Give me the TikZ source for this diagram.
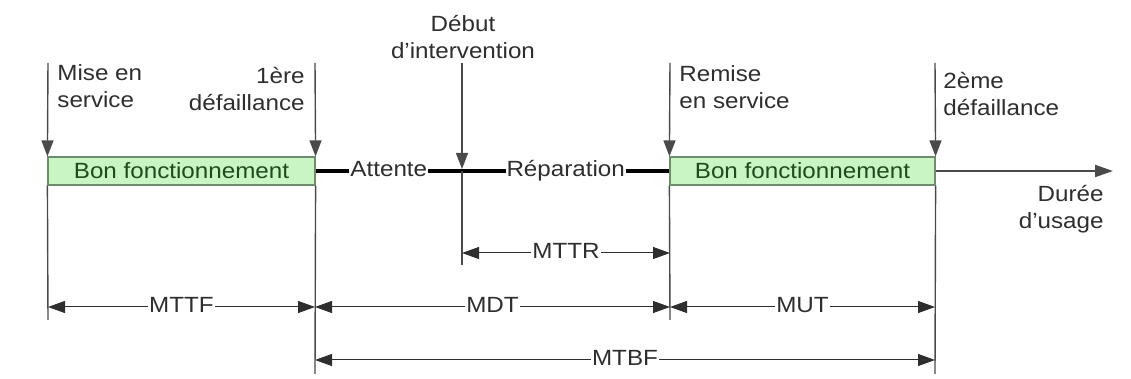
\documentclass[tikz,border=0pt]{standalone}
\usepackage{fontspec}
\setmainfont[FakeStretch=1.1]{Liberation Sans}
\usetikzlibrary{arrows.meta, positioning}

\definecolor{boxgreen}{HTML}{C8F5C3}
\definecolor{boxedge}{HTML}{6E8C6E}
\definecolor{boxtext}{HTML}{1E4A1E}
\definecolor{inkgray}{HTML}{2E2E2E}
\definecolor{linegray}{HTML}{4A4A4A}

\begin{document}
\begin{tikzpicture}[x=0.5pt, y=-0.5pt,
    lbl/.style={font=\fontsize{11pt}{13.5pt}\selectfont, text=inkgray, inner sep=0pt},
    okbox/.style={rectangle, draw=boxedge, line width=0.6pt, fill=boxgreen, text=boxtext, font=\fontsize{11pt}{13.5pt}\selectfont, minimum height=14pt, inner sep=0pt},
    evline/.style={draw=linegray, line width=0.7pt},
    evarrow/.style={evline, -{Triangle[length=8pt,width=6pt]}},
    dim/.style={draw=inkgray, line width=0.5pt, {Triangle[length=8.5pt,width=6pt]}-{Triangle[length=8.5pt,width=6pt]}},
    dimlbl/.style={lbl, fill=white, inner xsep=0.5pt, inner ysep=1pt, text height=8pt, text depth=2.4pt}
]
    \useasboundingbox (0,0) rectangle (1131,379);

    % event instants (top ends of the vertical lines)
    \coordinate (mes) at (48,63);
    \coordinate (def1) at (315,63);
    \coordinate (deb) at (462,63);
    \coordinate (rem) at (670,63);
    \coordinate (def2) at (935,63);
    % rows of the duration arrows
    \coordinate (r1) at (0,253);
    \coordinate (r2) at (0,307);
    \coordinate (r3) at (0,360);

    % up-states on the time axis
    \node[okbox, minimum width=133.5pt] (bon1) at (181.5,171) {Bon fonctionnement};
    \node[okbox, minimum width=132.5pt] (bon2) at (802.5,171) {Bon fonctionnement};
    \coordinate (debt) at (deb |- bon1.center);
    \coordinate (fin) at (1113,171);

    % down-state and axis
    \draw[line width=1.9pt] (bon1.east) -- node[dimlbl] (att) {Attente} (debt)
        -- node[dimlbl] (rep) {Réparation} (bon2.west);
    \draw[draw=linegray, line width=1pt, -{Triangle[length=9pt,width=6pt]}] (bon2.east) -- (fin);

    % vertical event lines
    \draw[evarrow] (mes) -- (bon1.north west);
    \draw[evline] (bon1.south west) -- (mes |- 0,320);
    \draw[evarrow] (def1) -- (bon1.north east);
    \draw[evline] (bon1.south east) -- (def1 |- 0,374);
    \draw[evarrow] (deb) -- ([yshift=1pt]debt);
    \draw[evline] (debt) -- (deb |- 0,265);
    \draw[evarrow] (rem) -- (bon2.north west);
    \draw[evline] (bon2.south west) -- (rem |- 0,320);
    \draw[evarrow] (def2) -- (bon2.north east);
    \draw[evline] (bon2.south east) -- (def2 |- 0,374);

    % event labels
    \node[lbl, anchor=north west, align=left] (mesl) at (57,64) {Mise en\\service};
    \node[lbl, anchor=north east, align=right] (def1l) at (305,67) {1ère\\défaillance};
    \node[lbl, anchor=north, align=center] (debl) at (463,15) {Début\\d’intervention};
    \node[lbl, anchor=north west, align=left] (reml) at (679,65) {Remise\\en service};
    \node[lbl, anchor=north west, align=left] (def2l) at (943,72) {2ème\\défaillance};
    \node[lbl, anchor=north east, align=right] (durl) at (1104,185) {Durée\\d’usage};

    % mean durations
    \draw[dim] (deb |- r1) -- node[dimlbl] (mttr) {MTTR} (rem |- r1);
    \draw[dim] (mes |- r2) -- node[dimlbl] (mttf) {MTTF} (def1 |- r2);
    \draw[dim] (def1 |- r2) -- node[dimlbl] (mdt) {MDT} (rem |- r2);
    \draw[dim] (rem |- r2) -- node[dimlbl] (mut) {MUT} (def2 |- r2);
    \draw[dim] (def1 |- r3) -- node[dimlbl] (mtbf) {MTBF} (def2 |- r3);
\end{tikzpicture}
\end{document}
